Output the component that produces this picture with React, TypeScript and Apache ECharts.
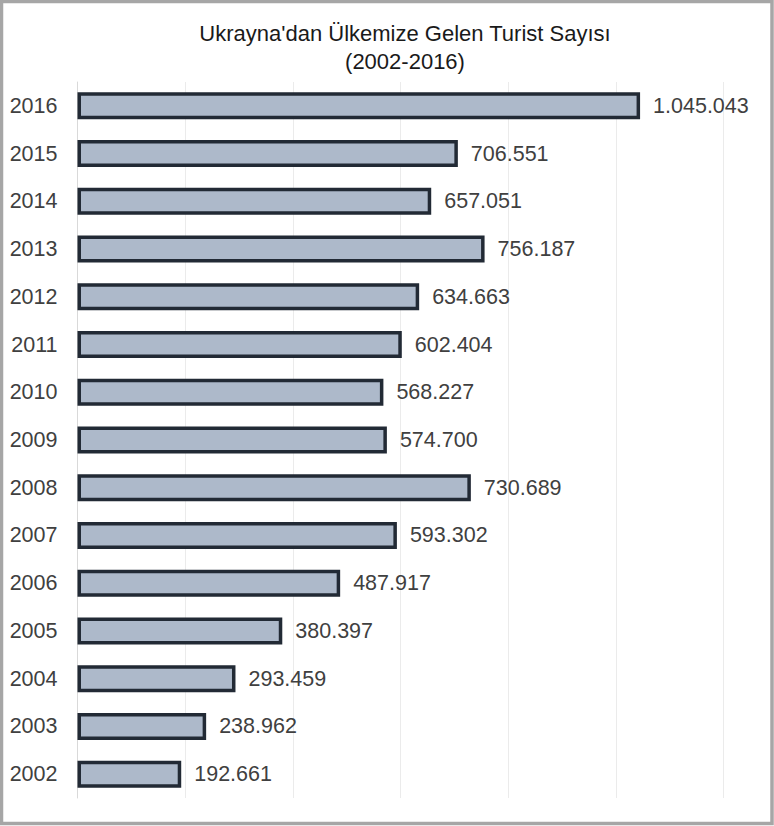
import React, { useEffect, useRef } from "react";
import * as echarts from "echarts";

const years = ["2002", "2003", "2004", "2005", "2006", "2007", "2008", "2009", "2010", "2011", "2012", "2013", "2014", "2015", "2016"];
const tourists = [192661, 238962, 293459, 380397, 487917, 593302, 730689, 574700, 568227, 602404, 634663, 756187, 657051, 706551, 1045043];
const titleLines = ["Ukrayna'dan Ülkemize Gelen Turist Sayısı", "(2002-2016)"];

const fmt = (v: number) => String(v).replace(/\B(?=(\d{3})+(?!\d))/g, ".");

export default function App() {
  const ref = useRef<HTMLDivElement>(null);
  useEffect(() => {
    if (!ref.current) return;
    const chart = echarts.init(ref.current, null, { renderer: "svg" });
    const font = "'Liberation Sans', Arial, sans-serif";
    chart.setOption({
      animation: false,
      backgroundColor: "#ffffff",
      grid: { left: 77.5, right: 50.5, top: 82, bottom: 28, containLabel: false },
      xAxis: {
        type: "value",
        min: 0,
        max: 1200000,
        interval: 200000,
        axisLabel: { show: false },
        axisLine: { show: false },
        axisTick: { show: false },
        splitLine: { show: true, lineStyle: { color: "#ebebeb", width: 1 } },
      },
      yAxis: {
        type: "category",
        data: years,
        axisLine: { show: true, lineStyle: { color: "#d9d9d9" } },
        axisTick: { show: false },
        axisLabel: { fontSize: 21.5, color: "#404040", margin: 20, fontFamily: font },
      },
      graphic: [
        {
          type: "rect",
          shape: { x: 1.5, y: 1.5, width: 770.5, height: 822 },
          style: { fill: "none", stroke: "#a6a6a6", lineWidth: 3.5 },
          silent: true,
        },
        {
          type: "text",
          x: 405,
          y: 19,
          style: {
            text: titleLines.join("\n"),
            textAlign: "center",
            fontSize: 22,
            lineHeight: 28,
            fill: "#1a1a1a",
            fontFamily: font,
          },
        },
      ],
      series: [
        {
          type: "bar",
          data: tourists,
          barWidth: 27,
          itemStyle: { color: "#adb9ca", borderColor: "#222a35", borderWidth: 3.5 },
          label: {
            show: true,
            position: "right",
            distance: 13,
            fontSize: 21.5,
            color: "#404040",
            fontFamily: font,
            formatter: (p: any) => fmt(p.value),
          },
        },
      ],
    });
    return () => chart.dispose();
  }, []);
  return (
    <div
      ref={ref}
      style={{ position: "absolute", left: 0, top: 0, width: 774, height: 826 }}
    />
  );
}
